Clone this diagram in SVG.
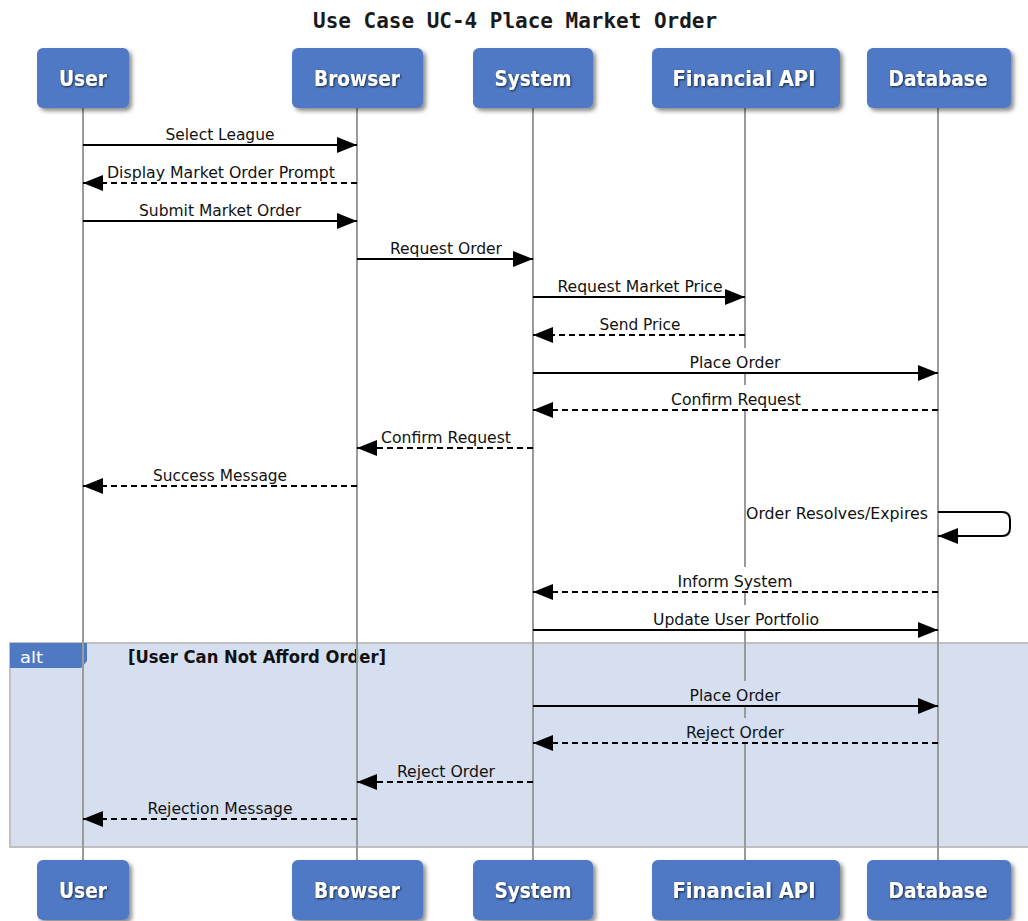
<svg xmlns="http://www.w3.org/2000/svg" width="1028" height="921" viewBox="0 0 1028 921">
  <defs>
    <style>
      .title { font-family: "DejaVu Sans Mono", "Liberation Mono", monospace; font-size: 21px; font-weight: bold; fill: #1a1a1a; }
      .pbox { fill: #5079c4; filter: url(#boxShadow); }
      .pname { font-family: "DejaVu Sans", "Liberation Sans", sans-serif; font-size: 21px; font-weight: bold; fill: #fff; text-anchor: middle; filter: url(#textShadow); }
      .life { stroke: #9a9a9a; stroke-width: 2; fill: none; }
      .msg { stroke: #000; stroke-width: 2; fill: none; }
      .dash { stroke-dasharray: 6 4; }
      .lbl { font-family: "DejaVu Sans Condensed", "DejaVu Sans", sans-serif; font-size: 16px; fill: #111; text-anchor: middle; }
      .lblbg { fill: #fff; }
      .lblbg.alt { fill: #d6dff0; }
      .frame { fill: #d6dff0; stroke: #c0c0c0; stroke-width: 2; }
      .tab { fill: #5079c4; }
      .tabtxt { font-family: "DejaVu Sans", "Liberation Sans", sans-serif; font-size: 16px; fill: #fff; }
      .cond { font-family: "DejaVu Sans", "Liberation Sans", sans-serif; font-size: 17px; font-weight: bold; fill: #111; }
    </style>
    <filter id="boxShadow" x="-10%" y="-10%" width="130%" height="140%">
      <feDropShadow dx="3" dy="3" stdDeviation="2" flood-color="#000" flood-opacity="0.45"/>
    </filter>
    <filter id="textShadow" x="-10%" y="-20%" width="130%" height="150%">
      <feDropShadow dx="1" dy="1" stdDeviation="1" flood-color="#000" flood-opacity="0.7"/>
    </filter>
    <marker id="arrow" markerWidth="20" markerHeight="16" refX="20" refY="8" orient="auto" markerUnits="userSpaceOnUse">
      <path d="M0,0 L20,8 L0,16 Z" fill="#000"/>
    </marker>
  </defs>

  <rect width="1028" height="921" fill="#fff"/>

  <text class="title" x="313" y="28" textLength="404" lengthAdjust="spacingAndGlyphs">Use Case UC-4 Place Market Order</text>

  <!-- alt combined fragment -->
  <g id="alt-fragment">
    <rect class="frame" x="10" y="643" width="1030" height="204"/>
    <path class="tab" d="M10,643 H87 V661 L81,668 H10 Z"/>
    <text class="tabtxt" x="20" y="663" textLength="23" lengthAdjust="spacingAndGlyphs">alt</text>
    <text class="cond" x="128" y="663" textLength="258" lengthAdjust="spacingAndGlyphs">[User Can Not Afford Order]</text>
  </g>

  <!-- lifelines -->
  <g id="lifelines">
    <line class="life" x1="83" y1="108" x2="83" y2="860"/>
    <line class="life" x1="357" y1="108" x2="357" y2="860"/>
    <line class="life" x1="533" y1="108" x2="533" y2="860"/>
    <line class="life" x1="745" y1="108" x2="745" y2="860"/>
    <line class="life" x1="938" y1="108" x2="938" y2="860"/>
  </g>

  <!-- participants (top and bottom heads) -->
  <g id="user">
    <rect class="pbox" x="37" y="48" width="92" height="60" rx="6"/>
    <text class="pname" x="83" y="86" textLength="48" lengthAdjust="spacingAndGlyphs">User</text>
    <rect class="pbox" x="37" y="860" width="92" height="60" rx="6"/>
    <text class="pname" x="83" y="898" textLength="48" lengthAdjust="spacingAndGlyphs">User</text>
  </g>
  <g id="browser">
    <rect class="pbox" x="292" y="48" width="131" height="60" rx="6"/>
    <text class="pname" x="357" y="86" textLength="86" lengthAdjust="spacingAndGlyphs">Browser</text>
    <rect class="pbox" x="292" y="860" width="131" height="60" rx="6"/>
    <text class="pname" x="357" y="898" textLength="86" lengthAdjust="spacingAndGlyphs">Browser</text>
  </g>
  <g id="system">
    <rect class="pbox" x="473" y="48" width="120" height="60" rx="6"/>
    <text class="pname" x="533" y="86" textLength="77" lengthAdjust="spacingAndGlyphs">System</text>
    <rect class="pbox" x="473" y="860" width="120" height="60" rx="6"/>
    <text class="pname" x="533" y="898" textLength="77" lengthAdjust="spacingAndGlyphs">System</text>
  </g>
  <g id="financial-api">
    <rect class="pbox" x="652" y="48" width="188" height="60" rx="6"/>
    <text class="pname" x="744" y="86" textLength="143" lengthAdjust="spacingAndGlyphs">Financial API</text>
    <rect class="pbox" x="652" y="860" width="188" height="60" rx="6"/>
    <text class="pname" x="744" y="898" textLength="143" lengthAdjust="spacingAndGlyphs">Financial API</text>
  </g>
  <g id="database">
    <rect class="pbox" x="867" y="48" width="144" height="60" rx="6"/>
    <text class="pname" x="938" y="86" textLength="99" lengthAdjust="spacingAndGlyphs">Database</text>
    <rect class="pbox" x="867" y="860" width="144" height="60" rx="6"/>
    <text class="pname" x="938" y="898" textLength="99" lengthAdjust="spacingAndGlyphs">Database</text>
  </g>

  <!-- messages -->
  <g id="connectors">
    <!-- label backdrops that mask the lifelines they cross -->
    <rect class="lblbg" x="688" y="348" width="95" height="24"/>
    <rect class="lblbg" x="669" y="385" width="134" height="24"/>
    <rect class="lblbg" x="676" y="567" width="119" height="24"/>
    <rect class="lblbg" x="651" y="605" width="170" height="24"/>
    <rect class="lblbg alt" x="688" y="681" width="95" height="24"/>
    <rect class="lblbg alt" x="684" y="718" width="102" height="24"/>

    <line class="msg" x1="83" y1="145" x2="357" y2="145" marker-end="url(#arrow)"/>
    <text class="lbl" x="220" y="140" textLength="109" lengthAdjust="spacingAndGlyphs">Select League</text>

    <line class="msg dash" x1="357" y1="183" x2="83" y2="183" marker-end="url(#arrow)"/>
    <text class="lbl" x="221" y="178" textLength="228" lengthAdjust="spacingAndGlyphs">Display Market Order Prompt</text>

    <line class="msg" x1="83" y1="221" x2="357" y2="221" marker-end="url(#arrow)"/>
    <text class="lbl" x="220" y="216" textLength="162" lengthAdjust="spacingAndGlyphs">Submit Market Order</text>

    <line class="msg" x1="357" y1="259" x2="533" y2="259" marker-end="url(#arrow)"/>
    <text class="lbl" x="446" y="254" textLength="112" lengthAdjust="spacingAndGlyphs">Request Order</text>

    <line class="msg" x1="533" y1="297" x2="745" y2="297" marker-end="url(#arrow)"/>
    <text class="lbl" x="640" y="292" textLength="165" lengthAdjust="spacingAndGlyphs">Request Market Price</text>

    <line class="msg dash" x1="745" y1="335" x2="533" y2="335" marker-end="url(#arrow)"/>
    <text class="lbl" x="640" y="330" textLength="81" lengthAdjust="spacingAndGlyphs">Send Price</text>

    <line class="msg" x1="533" y1="373" x2="938" y2="373" marker-end="url(#arrow)"/>
    <text class="lbl" x="735" y="368" textLength="91" lengthAdjust="spacingAndGlyphs">Place Order</text>

    <line class="msg dash" x1="938" y1="410" x2="533" y2="410" marker-end="url(#arrow)"/>
    <text class="lbl" x="736" y="405" textLength="130" lengthAdjust="spacingAndGlyphs">Confirm Request</text>

    <line class="msg dash" x1="533" y1="448" x2="357" y2="448" marker-end="url(#arrow)"/>
    <text class="lbl" x="446" y="443" textLength="130" lengthAdjust="spacingAndGlyphs">Confirm Request</text>

    <line class="msg dash" x1="357" y1="486" x2="83" y2="486" marker-end="url(#arrow)"/>
    <text class="lbl" x="220" y="481" textLength="134" lengthAdjust="spacingAndGlyphs">Success Message</text>

    <path class="msg" d="M938,512 H1002 Q1010,512 1010,520 V528 Q1010,536 1002,536 H938" marker-end="url(#arrow)"/>
    <text class="lbl" x="837" y="519" textLength="182" lengthAdjust="spacingAndGlyphs">Order Resolves/Expires</text>

    <line class="msg dash" x1="938" y1="592" x2="533" y2="592" marker-end="url(#arrow)"/>
    <text class="lbl" x="735" y="587" textLength="115" lengthAdjust="spacingAndGlyphs">Inform System</text>

    <line class="msg" x1="533" y1="630" x2="938" y2="630" marker-end="url(#arrow)"/>
    <text class="lbl" x="736" y="625" textLength="166" lengthAdjust="spacingAndGlyphs">Update User Portfolio</text>

    <line class="msg" x1="533" y1="706" x2="938" y2="706" marker-end="url(#arrow)"/>
    <text class="lbl" x="735" y="701" textLength="91" lengthAdjust="spacingAndGlyphs">Place Order</text>

    <line class="msg dash" x1="938" y1="743" x2="533" y2="743" marker-end="url(#arrow)"/>
    <text class="lbl" x="735" y="738" textLength="98" lengthAdjust="spacingAndGlyphs">Reject Order</text>

    <line class="msg dash" x1="533" y1="782" x2="357" y2="782" marker-end="url(#arrow)"/>
    <text class="lbl" x="446" y="777" textLength="98" lengthAdjust="spacingAndGlyphs">Reject Order</text>

    <line class="msg dash" x1="357" y1="819" x2="83" y2="819" marker-end="url(#arrow)"/>
    <text class="lbl" x="220" y="814" textLength="145" lengthAdjust="spacingAndGlyphs">Rejection Message</text>
  </g>
</svg>
